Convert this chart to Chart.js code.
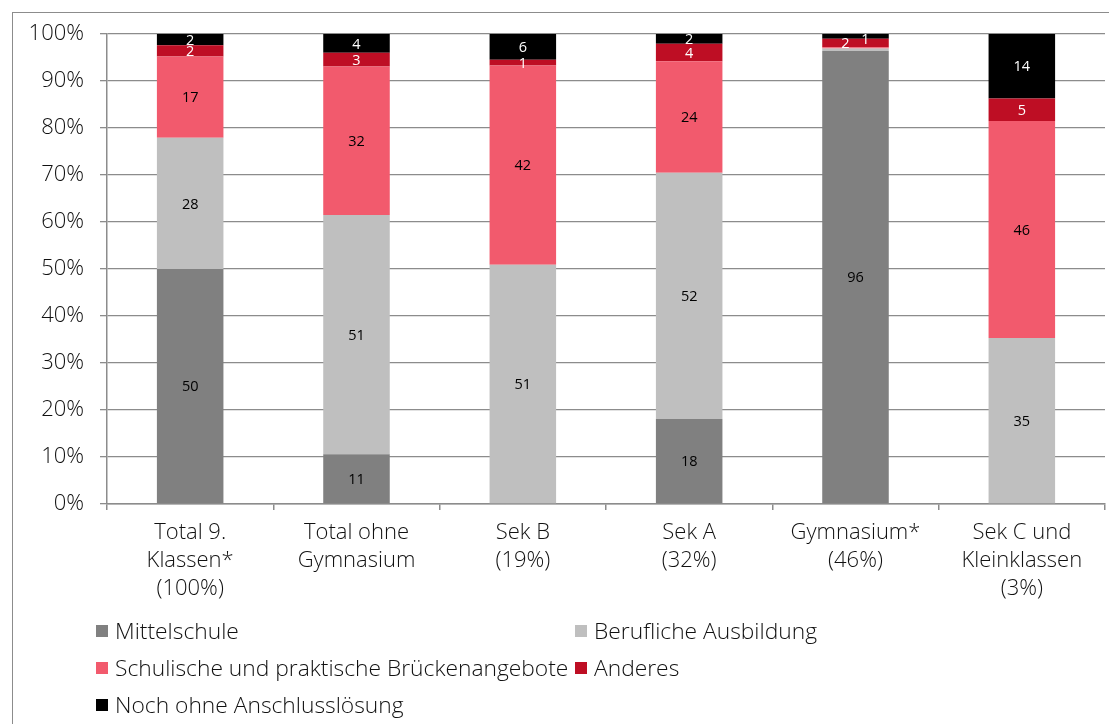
<!DOCTYPE html>
<html><head><meta charset="utf-8">
<script src="https://cdn.jsdelivr.net/npm/chart.js@4.4.1/dist/chart.umd.min.js"></script>
<style>
html,body{margin:0;padding:0;background:#fff;}
#wrap{position:relative;width:1109px;height:724px;overflow:hidden;background:#fff;}
#frame{position:absolute;left:12px;top:12px;width:1300px;height:900px;border-left:1px solid #8c8c8c;border-top:1px solid #8c8c8c;}
#c{position:absolute;left:0;top:0;}
#legend{position:absolute;left:96px;top:612px;font-family:'Open Sans',sans-serif;font-weight:300;font-size:22.8px;color:#111;display:grid;grid-template-columns:479px 479px;grid-auto-rows:37px;}
.item{display:flex;align-items:center;white-space:nowrap;}
.box{width:12px;height:12px;margin-right:7px;flex:none;}
</style>
</head><body>
<div id="wrap">
<div id="frame"></div>
<canvas id="c" width="1109" height="724"></canvas>
<div id="legend"></div>
</div>
<script>
const categories = [
  ["Total 9.", "Klassen*", "(100%)"],
  ["Total ohne", "Gymnasium"],
  ["Sek B", "(19%)"],
  ["Sek A", "(32%)"],
  ["Gymnasium*", "(46%)"],
  ["Sek C und", "Kleinklassen", "(3%)"]
];
const mittelschule   = [50.0, 10.6, 0,    18.1, 96.4, 0];
const beruflich      = [27.9, 50.9, 50.9, 52.4, 0.5,  35.3];
const bruecken       = [17.3, 31.6, 42.4, 23.7, 0.3,  46.2];
const anderes        = [2.4,  2.9,  1.2,  3.7,  1.8,  4.8];
const ohneLoesung    = [2.4,  4.0,  5.5,  2.1,  1.0,  13.7];
const yTicks = [0, 10, 20, 30, 40, 50, 60, 70, 80, 90, 100];

const seriesNames = ["Mittelschule", "Berufliche Ausbildung", "Schulische und praktische Brückenangebote", "Anderes", "Noch ohne Anschlusslösung"];
const seriesColors = ["#808080", "#bfbfbf", "#f25a6d", "#be0e24", "#000000"];
const labelColors = ["#000", "#000", "#000", "#fff", "#fff"];
const seriesData = [mittelschule, beruflich, bruecken, anderes, ohneLoesung];

const FONT = "'Open Sans', sans-serif";

const labelPlugin = {
  id: 'segLabels',
  afterDatasetsDraw(chart) {
    const ctx = chart.ctx;
    const top = chart.chartArea.top;
    ctx.save();
    ctx.font = "400 14.5px " + FONT;
    ctx.textAlign = 'center';
    ctx.textBaseline = 'middle';
    chart.data.datasets.forEach((ds, di) => {
      const meta = chart.getDatasetMeta(di);
      meta.data.forEach((el, i) => {
        const v = ds.data[i];
        if (v < 1) return;
        const h = Math.abs(el.base - el.y);
        let dx = 0;
        if (di >= 3) {
          const other = chart.getDatasetMeta(di === 3 ? 4 : 3).data[i];
          const oh = Math.abs(other.base - other.y);
          if (h < 10 && oh < 10) dx = di === 3 ? -10 : 10;
        }
        const cy = Math.max((el.y + el.base) / 2 + 1, top + 6);
        ctx.fillStyle = labelColors[di];
        ctx.fillText(String(Math.round(v)), el.x + dx, cy);
      });
    });
    ctx.restore();
  }
};

const chart = new Chart(document.getElementById('c'), {
  type: 'bar',
  data: {
    labels: categories,
    datasets: seriesData.map((d, k) => ({
      label: seriesNames[k],
      data: d,
      backgroundColor: seriesColors[k],
      borderWidth: 0,
      barPercentage: 1,
      categoryPercentage: 0.4
    }))
  },
  options: {
    responsive: false,
    animation: false,
    layout: { padding: { top: 34, right: 4, left: 0, bottom: 0 } },
    plugins: { legend: { display: false }, tooltip: { enabled: false } },
    scales: {
      x: {
        stacked: true,
        afterFit(s) { s.height = 220; },
        grid: { display: true, drawOnChartArea: false, offset: true, tickLength: 6, color: '#8c8c8c', lineWidth: 1.5 },
        border: { display: true, color: '#8c8c8c', width: 1.5 },
        ticks: { color: '#111', font: { family: FONT, size: 22, weight: 300, lineHeight: 1.27 }, padding: 9, maxRotation: 0, autoSkip: false }
      },
      y: {
        stacked: true,
        min: 0, max: 100,
        afterFit(s) { s.width = 107; },
        afterBuildTicks(s) { s.ticks = yTicks.map(v => ({ value: v })); },
        grid: { color: '#8c8c8c', lineWidth: 1.3, tickLength: 7 },
        border: { display: true, color: '#8c8c8c', width: 1.5 },
        ticks: { color: '#111', font: { family: FONT, size: 22, weight: 300 }, padding: 16, callback: v => v + '%' }
      }
    }
  },
  plugins: [labelPlugin]
});

const leg = document.getElementById('legend');
seriesNames.forEach((n, k) => {
  const it = document.createElement('div');
  it.className = 'item';
  const b = document.createElement('span');
  b.className = 'box';
  b.style.background = seriesColors[k];
  const t = document.createElement('span');
  t.textContent = n;
  it.appendChild(b); it.appendChild(t);
  leg.appendChild(it);
});
</script>
</body></html>
